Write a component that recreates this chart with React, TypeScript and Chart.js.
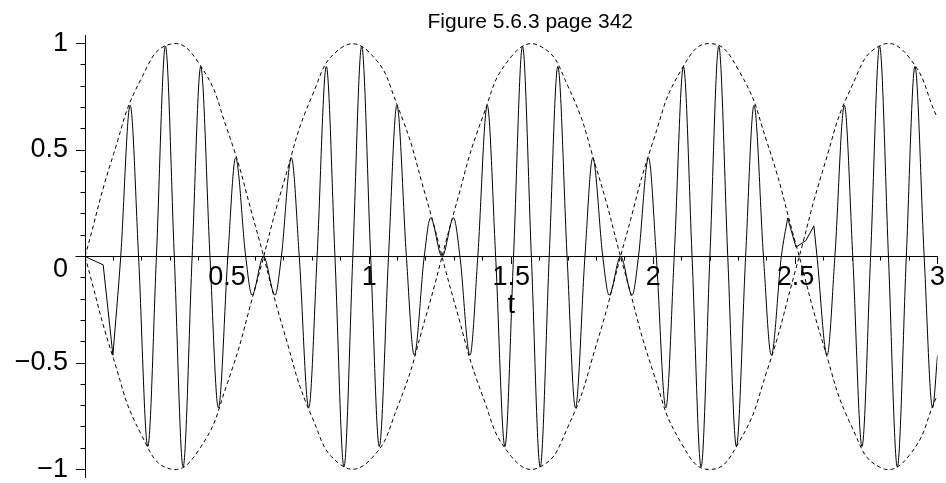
import React, { useEffect, useRef } from 'react';
import { Chart, registerables } from 'chart.js';

Chart.register(...registerables);

const titleText = 'Figure 5.6.3 page 342';
const xAxisTitle = 't';

const xTickValues = [0, 0.5, 1, 1.5, 2, 2.5, 3];
const xTickLabels = ['', '0.5', '1', '1.5', '2', '2.5', '3'];
const yTickValues = [-1, -0.5, 0, 0.5, 1];
const yTickLabels = ['\u22121', '\u22120.5', '0', '0.5', '1'];
const xMinorTicks = [0.1, 0.2, 0.3, 0.4, 0.6, 0.7, 0.8, 0.9, 1.1, 1.2, 1.3, 1.4, 1.6, 1.7, 1.8, 1.9, 2.1, 2.2, 2.3, 2.4, 2.6, 2.7, 2.8, 2.9];
const yMinorTicks = [-0.9, -0.8, -0.7, -0.6, -0.4, -0.3, -0.2, -0.1, 0.1, 0.2, 0.3, 0.4, 0.6, 0.7, 0.8, 0.9];

// envelope (dashed curves)
const envT = [0, 0.1, 0.2, 0.3, 0.4, 0.5, 0.6, 0.7, 0.8, 0.9, 1.0, 1.1, 1.2, 1.3, 1.4, 1.5, 1.6, 1.7, 1.8, 1.9, 2.0, 2.1, 2.2, 2.3, 2.4, 2.5, 2.6, 2.7, 2.8, 2.9, 3.0];
const envUpper = [0, 0.479, 0.841, 0.997, 0.909, 0.598, 0.141, -0.351, -0.757, -0.978, -0.959, -0.706, -0.279, 0.215, 0.657, 0.938, 0.989, 0.798, 0.412, -0.075, -0.544, -0.88, -1.0, -0.875, -0.537, -0.066, 0.42, 0.804, 0.991, 0.935, 0.65];
const envLower = [0, -0.479, -0.841, -0.997, -0.909, -0.598, -0.141, 0.351, 0.757, 0.978, 0.959, 0.706, 0.279, -0.215, -0.657, -0.938, -0.989, -0.798, -0.412, 0.075, 0.544, 0.88, 1.0, 0.875, 0.537, 0.066, -0.42, -0.804, -0.991, -0.935, -0.65];

// fast oscillation (solid curve): zero crossings and extremes
const waveT = [
  0.0, 0.064, 0.0982, 0.1257, 0.159, 0.1885, 0.221, 0.2513, 0.283, 0.3142, 0.3453, 0.377, 0.4073, 0.4398, 0.4693, 0.5027, 0.5301, 0.5655, 0.5878,
  0.6283, 0.6688, 0.6911, 0.7265, 0.754, 0.7873, 0.8168, 0.8493, 0.8796, 0.9113, 0.9425, 0.9736, 1.0053, 1.0356, 1.0681, 1.0976, 1.131, 1.1584, 1.1938, 1.2161,
  1.2566, 1.2971, 1.3195, 1.3548, 1.3823, 1.4156, 1.4451, 1.4776, 1.508, 1.5396, 1.5708, 1.6019, 1.6336, 1.6639, 1.6965, 1.7259, 1.7593, 1.7867, 1.8221, 1.8444,
  1.885, 1.9255, 1.9478, 1.9832, 2.0106, 2.044, 2.0735, 2.106, 2.1363, 2.168, 2.1991, 2.2303, 2.2619, 2.2923, 2.3248, 2.3543, 2.3876, 2.4151, 2.4504, 2.4728,
  2.502, 2.537, 2.565,
  2.5761, 2.6115, 2.6389, 2.6723, 2.7018, 2.7343, 2.7646, 2.7963, 2.8274, 2.8586, 2.8903, 2.9206, 2.9531, 2.9826, 3.0
];
const waveY = [
  0, -0.039, -0.463, 0, 0.71, 0, -0.892, 0, 0.988, 0, -0.988, 0, 0.892, 0, -0.71, 0, 0.463, 0, -0.181,
  0, -0.181, 0, 0.463, 0, -0.71, 0, 0.892, 0, -0.988, 0, 0.988, 0, -0.892, 0, 0.71, 0, -0.463, 0, 0.181,
  0, 0.181, 0, -0.463, 0, 0.71, 0, -0.892, 0, 0.988, 0, -0.988, 0, 0.892, 0, -0.71, 0, 0.463, 0, -0.181,
  0, -0.181, 0, 0.463, 0, -0.71, 0, 0.892, 0, -0.988, 0, 0.988, 0, -0.892, 0, 0.71, 0, -0.463, 0, 0.181,
  0.044, 0.075, 0.144,
  0, -0.463, 0, 0.71, 0, -0.892, 0, 0.988, 0, -0.988, 0, 0.892, 0, -0.71, -0.465
];

// index ranges of the solid curve: coarse straight pieces vs smooth pieces
const straightPieces = [[0, 2], [78, 81]];
const smoothPieces = [[2, 78], [81, 96]];

const FONT = '"Liberation Sans", Arial, Helvetica, sans-serif';

const extrasPlugin = {
  id: 'mapleExtras',
  afterDraw(chart: any) {
    const { ctx, chartArea, scales } = chart;
    const xs = scales.x;
    const ys = scales.y;
    const y0 = Math.floor(ys.getPixelForValue(0)) + 0.5;
    const xLeft = Math.floor(xs.getPixelForValue(0)) + 0.5;
    ctx.save();
    ctx.strokeStyle = '#000';
    ctx.lineWidth = 1;
    ctx.beginPath();
    // x-axis stub left of the y-axis
    ctx.moveTo(xLeft - 10, y0);
    ctx.lineTo(xLeft, y0);
    // minor ticks on x axis
    xMinorTicks.forEach((v) => {
      const px = Math.floor(xs.getPixelForValue(v)) + 0.5;
      ctx.moveTo(px, y0);
      ctx.lineTo(px, y0 + 4);
    });
    // minor ticks on y axis
    yMinorTicks.forEach((v) => {
      const py = Math.floor(ys.getPixelForValue(v)) + 0.5;
      ctx.moveTo(xLeft - 5, py);
      ctx.lineTo(xLeft, py);
    });
    ctx.stroke();
    // title
    ctx.fillStyle = '#000';
    ctx.font = '21px ' + FONT;
    ctx.textAlign = 'center';
    ctx.textBaseline = 'alphabetic';
    ctx.fillText(titleText, (chartArea.left + chartArea.right) / 2 + 19, 28);
    ctx.restore();
  },
};

function piece(range: number[]) {
  const out: { x: number; y: number }[] = [];
  for (let i = range[0]; i <= range[1]; i++) out.push({ x: waveT[i], y: waveY[i] });
  return out;
}

export default function App() {
  const canvasRef = useRef<HTMLCanvasElement | null>(null);

  useEffect(() => {
    if (!canvasRef.current) return;
    Chart.defaults.font.family = FONT;
    const solidBase = { borderColor: '#000', borderWidth: 1, pointRadius: 0, fill: false };
    const datasets: any[] = [
      ...smoothPieces.map((r) => ({ ...solidBase, data: piece(r), cubicInterpolationMode: 'monotone' })),
      ...straightPieces.map((r) => ({ ...solidBase, data: piece(r), tension: 0 })),
      {
        data: envT.map((t, i) => ({ x: t, y: envUpper[i] })),
        borderColor: '#000',
        borderWidth: 1,
        borderDash: [4, 3],
        pointRadius: 0,
        fill: false,
        tension: 0.5,
      },
      {
        data: envT.map((t, i) => ({ x: t, y: envLower[i] })),
        borderColor: '#000',
        borderWidth: 1,
        borderDash: [4, 3],
        pointRadius: 0,
        fill: false,
        tension: 0.5,
      },
    ];
    const chart = new Chart(canvasRef.current, {
      type: 'line',
      data: { datasets },
      options: {
        responsive: false,
        animation: false,
        events: [],
        layout: { padding: { left: 0, right: 8, top: 35, bottom: 6 } },
        plugins: {
          legend: { display: false },
          tooltip: { enabled: false },
          title: { display: false },
        },
        scales: {
          x: {
            type: 'linear',
            min: 0,
            max: 3,
            position: { y: 0 },
            afterBuildTicks: (scale: any) => {
              scale.ticks = xTickValues.map((v) => ({ value: v }));
            },
            ticks: {
              autoSkip: false,
              maxRotation: 0,
              padding: 1,
              color: '#000',
              font: { size: 27, lineHeight: 1 },
              callback: (_v: any, i: number) => xTickLabels[i],
            },
            grid: {
              drawOnChartArea: false,
              drawTicks: true,
              tickLength: 7,
              color: '#000',
              tickColor: '#000',
            },
            border: { display: true, color: '#000', width: 1 },
            title: {
              display: true,
              text: xAxisTitle,
              color: '#000',
              font: { size: 27, lineHeight: 1 },
              padding: 0,
            },
          },
          y: {
            type: 'linear',
            min: -1.035,
            max: 1.04,
            position: 'left',
            afterBuildTicks: (scale: any) => {
              scale.ticks = yTickValues.map((v) => ({ value: v }));
            },
            afterFit: (scale: any) => {
              scale.width = 85;
              scale.paddingTop = 0;
              scale.paddingBottom = 0;
            },
            ticks: {
              autoSkip: false,
              padding: 8,
              color: '#000',
              font: { size: 27, lineHeight: 1 },
              callback: (_v: any, i: number) => (yTickLabels[i] === '0' ? ['', '0'] : yTickLabels[i]),
            },
            grid: {
              drawOnChartArea: false,
              drawTicks: true,
              tickLength: 9,
              color: '#000',
              tickColor: '#000',
            },
            border: { display: true, color: '#000', width: 1 },
          },
        },
      },
      plugins: [extrasPlugin],
    } as any);
    return () => chart.destroy();
  }, []);

  return (
    <div style={{ position: 'absolute', left: 0, top: 0, width: 946, height: 483, background: '#fff' }}>
      <canvas ref={canvasRef} width={946} height={483} style={{ display: 'block' }} />
    </div>
  );
}
